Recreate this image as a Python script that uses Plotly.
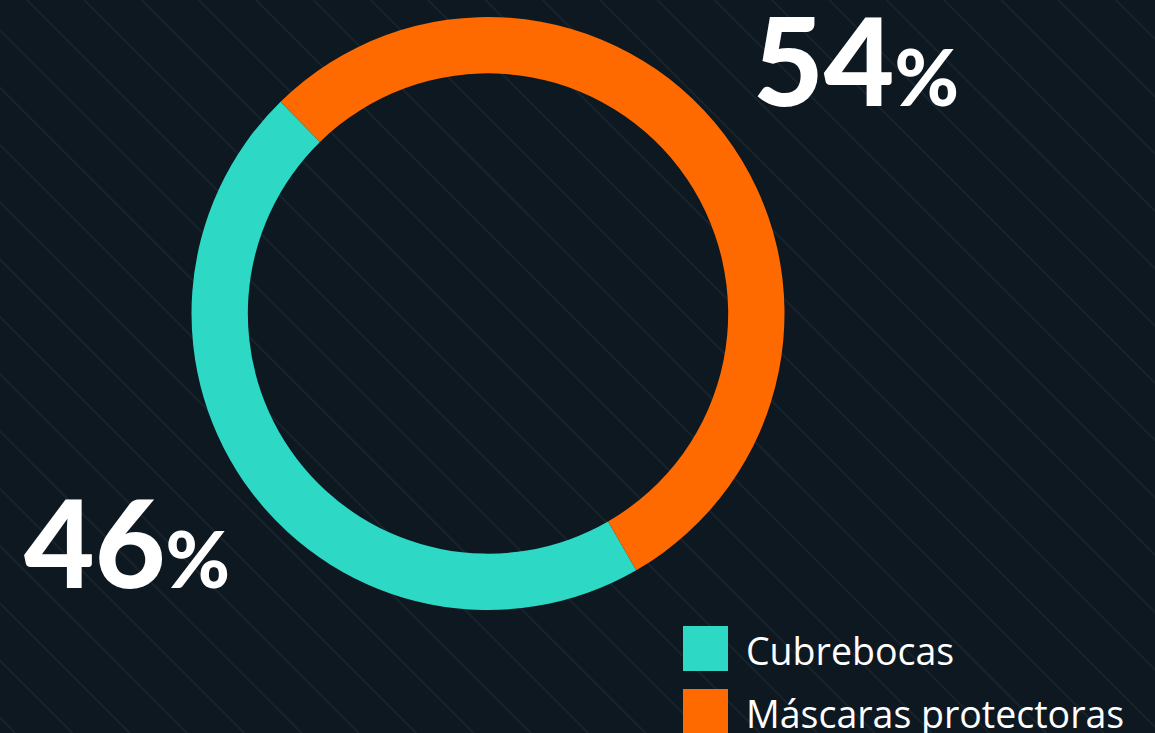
import plotly.graph_objects as go

labels = ["Cubrebocas", "Máscaras protectoras"]
values = [46, 54]
colors = ["#2dd9c5", "#ff6a00"]

W, H = 1155, 733
BG = "#0e1821"

fig = go.Figure()
fig.add_trace(go.Pie(
    labels=labels, values=values, hole=0.81, sort=False,
    direction="clockwise", rotation=150,
    marker=dict(colors=colors, line=dict(width=0)),
    textinfo="none", hoverinfo="skip", showlegend=False,
    domain=dict(x=[(488 - 296.5) / W, (488 + 296.5) / W],
                y=[(H - 610) / H, (H - 17) / H]),
))

shapes = []
# diagonal background pattern (45 degrees)
spacing = 57.3
c = 27 - spacing * 14
while c < W + spacing:
    shapes.append(dict(type="line", xref="paper", yref="paper",
                       x0=c / W, y0=1, x1=(c + H) / W, y1=0,
                       line=dict(color="#18232c", width=2), layer="below"))
    c += spacing

# legend squares and labels
annotations = []
leg_tops = [626, 689]
for lab, col, top in zip(labels, colors, leg_tops):
    shapes.append(dict(type="rect", xref="paper", yref="paper",
                       x0=683 / W, x1=728 / W, y0=1 - (top + 45) / H, y1=1 - top / H,
                       fillcolor=col, line=dict(width=0), layer="above"))
    annotations.append(dict(text=lab, xref="paper", yref="paper",
                            x=744 / W, y=1 - (top + 24) / H, xanchor="left", yanchor="middle",
                            showarrow=False,
                            font=dict(family="Open Sans", size=37.5, color="#ffffff")))

# percentage labels
pct_pos = {"Cubrebocas": (22, 616), "Máscaras protectoras": (751, 134)}
for lab, v in zip(labels, values):
    px, py = pct_pos[lab]
    annotations.append(dict(
        text=f"{v}<span style='font-size:78px'>%</span>",
        xref="paper", yref="paper", x=px / W, y=1 - py / H,
        xanchor="left", yanchor="bottom", showarrow=False,
        font=dict(family="Lato", size=122, color="#ffffff", weight=900)))

fig.update_layout(
    width=W, height=H, margin=dict(l=0, r=0, t=0, b=0),
    paper_bgcolor=BG, plot_bgcolor=BG,
    shapes=shapes, annotations=annotations,
)
fig.write_html("out.html", config={"displayModeBar": False},
               post_script="document.body.style.margin='0';document.body.style.background='#0e1821';document.body.style.overflow='hidden';")
